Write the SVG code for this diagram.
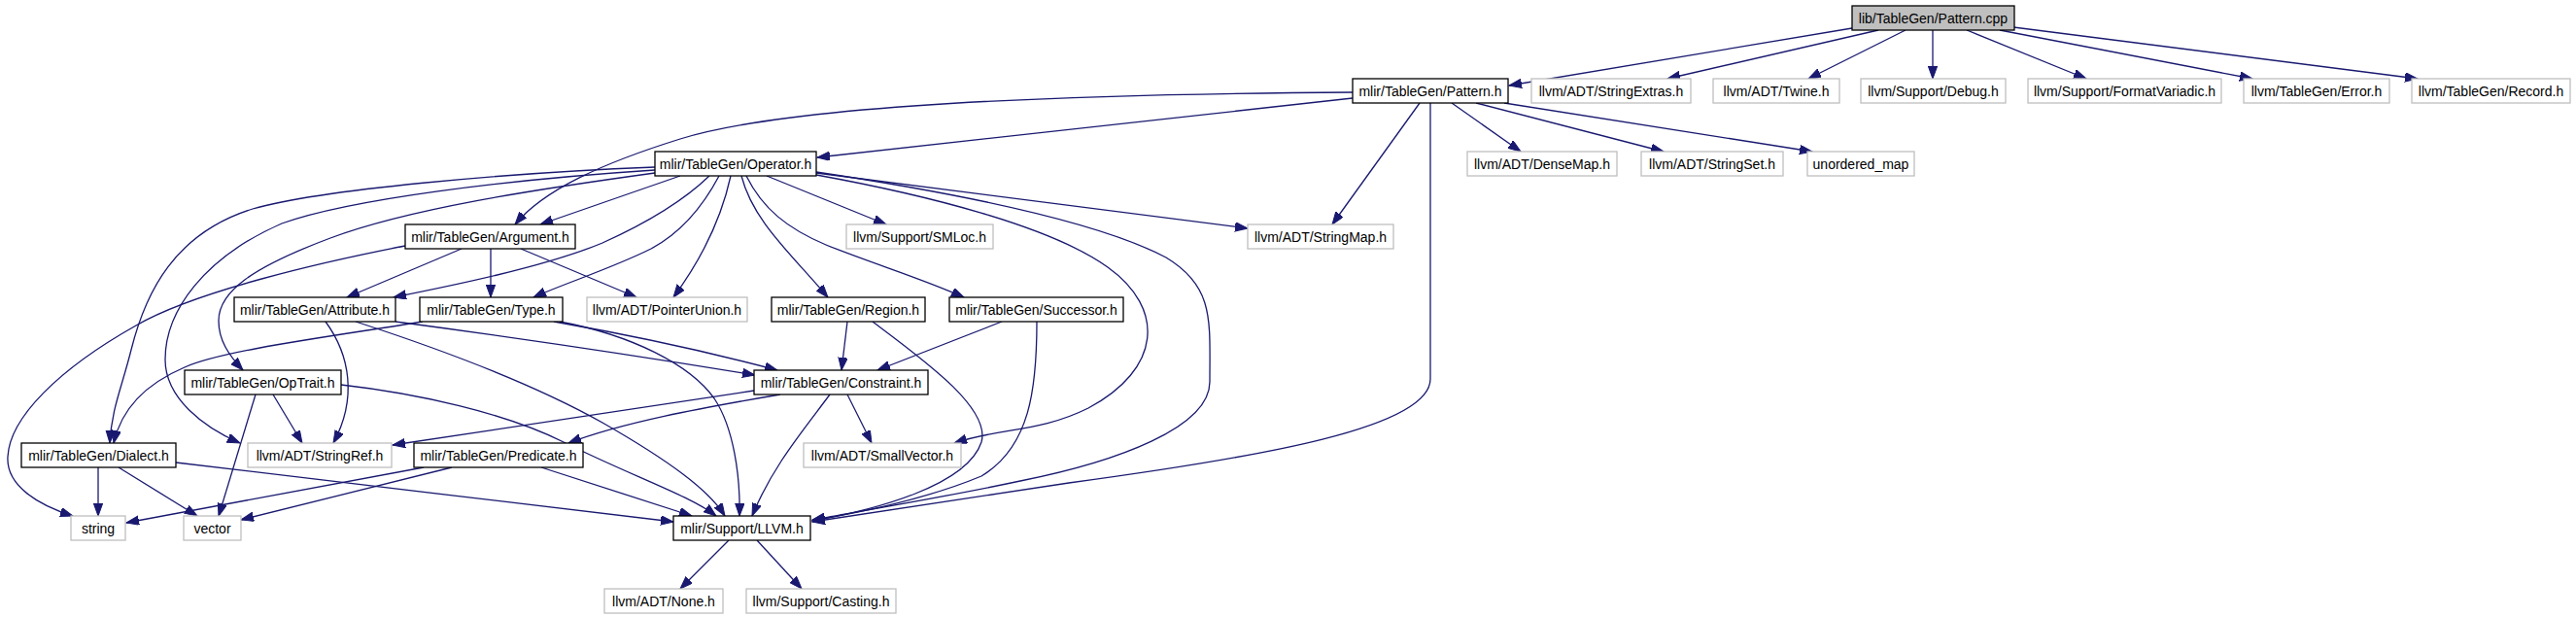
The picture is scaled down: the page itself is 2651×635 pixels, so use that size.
<svg xmlns="http://www.w3.org/2000/svg" width="2651" height="635" viewBox="0 0 2651 635">
<style>
.n rect{fill:#fff;stroke:#000;stroke-width:1.3}
.x rect{fill:#fff;stroke:#bfbfbf;stroke-width:1.3}
.root rect{fill:#bfbfbf;stroke:#000;stroke-width:1.3}
text{font-family:"Liberation Sans",Arial,sans-serif;font-size:14px;text-anchor:middle;fill:#000}
#edges path{fill:none;stroke:#191970;stroke-width:1.3;marker-end:url(#arr)}
</style>
<defs>
<marker id="arr" markerWidth="14" markerHeight="10" refX="13" refY="4.7" orient="auto" markerUnits="userSpaceOnUse">
<path d="M0,0 L13,4.7 L0,9.4 z" fill="#191970" stroke="#191970" stroke-width="1"/>
</marker>
</defs>
<rect width="2651" height="635" fill="#fff"/>
<g id="edges">
<path d="M1906,29 L1553,88"/>
<path d="M1933,31 L1716,81"/>
<path d="M1961,31 L1861,81"/>
<path d="M1989,31 L1989,81"/>
<path d="M2024,31 L2147,81"/>
<path d="M2058,31 L2318,81"/>
<path d="M2072,28 L2488,81"/>
<path d="M1392,95 C1050,97 800,112 700,143 C620,168 560,195 530,231"/>
<path d="M1392,101 L841,162"/>
<path d="M1461,106 L1371,231"/>
<path d="M1494,106 L1565,156"/>
<path d="M1519,106 L1712,156"/>
<path d="M1548,106 L1865,156"/>
<path d="M1472,106 L1472,390 C1472,440 1300,470 1100,497 C1000,512 900,527 836,537"/>
<path d="M700,181 L556,231"/>
<path d="M730,181 C700,210 660,232 620,250 C560,275 460,295 405,306"/>
<path d="M740,181 C722,215 700,240 670,256 C630,276 580,292 549,306"/>
<path d="M752,181 Q738,245 693,306"/>
<path d="M763,181 C775,228 815,262 852,306"/>
<path d="M768,181 C785,215 810,235 850,252 C900,272 950,287 992,306"/>
<path d="M789,181 L912,231"/>
<path d="M840,178 L1284,235"/>
<path d="M840,180 C950,200 1080,232 1140,275 C1200,318 1195,380 1120,420 C1070,445 1030,440 982,456"/>
<path d="M840,177 C980,198 1130,228 1200,265 C1250,295 1245,330 1245,393 C1245,440 1150,475 1050,495 C970,512 880,527 836,535"/>
<path d="M674,172 C520,178 330,195 260,215 C180,240 150,300 135,360 C125,400 115,420 113,456"/>
<path d="M674,175 C520,185 360,205 290,230 C210,265 170,320 170,370 C170,410 210,440 247,456"/>
<path d="M674,178 C550,195 420,215 340,245 C260,275 225,300 225,330 C225,350 235,365 250,381"/>
<path d="M475,256 L357,306"/>
<path d="M505,256 L505,306"/>
<path d="M536,256 L655,306"/>
<path d="M417,253 C330,270 200,300 140,335 C60,380 10,430 8,470 C6,500 40,520 75,531"/>
<path d="M335,331 C360,365 368,410 343,456"/>
<path d="M407,331 C550,350 680,370 777,386"/>
<path d="M366,331 C440,355 540,390 620,435 C690,475 730,505 746,531"/>
<path d="M570,331 C650,345 740,365 800,381"/>
<path d="M576,331 C650,345 710,375 735,410 C755,440 762,490 761,531"/>
<path d="M435,331 C350,345 230,360 190,378 C150,395 125,420 117,456"/>
<path d="M872,331 L866,381"/>
<path d="M898,331 C950,370 1020,420 1010,455 C995,500 900,525 836,536"/>
<path d="M1031,331 L903,381"/>
<path d="M1067,331 C1067,400 1060,460 1010,490 C950,515 880,528 836,536"/>
<path d="M263,406 L225,531"/>
<path d="M281,406 L311,456"/>
<path d="M351,396 C430,405 520,425 580,455 C650,490 710,510 737,531"/>
<path d="M854,406 C825,445 795,480 774,531"/>
<path d="M872,406 L897,456"/>
<path d="M776,402 L404,458"/>
<path d="M803,406 C720,420 640,435 585,456"/>
<path d="M101,481 L101,531"/>
<path d="M122,481 L203,531"/>
<path d="M181,476 L693,537"/>
<path d="M436,481 L130,538"/>
<path d="M465,481 L248,535"/>
<path d="M557,481 L712,531"/>
<path d="M750,556 L700,606"/>
<path d="M779,556 L825,606"/>
</g>
<g id="n_pattern_cpp" class="root"><rect x="1906" y="6" width="167" height="25"/><text x="1989.5" y="23.5">lib/TableGen/Pattern.cpp</text></g>
<g id="n_pattern_h" class="n"><rect x="1392" y="81" width="160" height="25"/><text x="1472" y="98.5">mlir/TableGen/Pattern.h</text></g>
<g id="n_stringextras" class="x"><rect x="1576" y="81" width="164" height="25"/><text x="1658" y="98.5">llvm/ADT/StringExtras.h</text></g>
<g id="n_twine" class="x"><rect x="1763" y="81" width="130" height="25"/><text x="1828" y="98.5">llvm/ADT/Twine.h</text></g>
<g id="n_debug" class="x"><rect x="1915" y="81" width="149" height="25"/><text x="1989.5" y="98.5">llvm/Support/Debug.h</text></g>
<g id="n_formatvariadic" class="x"><rect x="2087" y="81" width="199" height="25"/><text x="2186.5" y="98.5">llvm/Support/FormatVariadic.h</text></g>
<g id="n_error" class="x"><rect x="2309" y="81" width="150" height="25"/><text x="2384" y="98.5">llvm/TableGen/Error.h</text></g>
<g id="n_record" class="x"><rect x="2482" y="81" width="163" height="25"/><text x="2563.5" y="98.5">llvm/TableGen/Record.h</text></g>
<g id="n_operator" class="n"><rect x="674" y="156" width="166" height="25"/><text x="757" y="173.5">mlir/TableGen/Operator.h</text></g>
<g id="n_densemap" class="x"><rect x="1510" y="156" width="154" height="25"/><text x="1587" y="173.5">llvm/ADT/DenseMap.h</text></g>
<g id="n_stringset" class="x"><rect x="1689" y="156" width="146" height="25"/><text x="1762" y="173.5">llvm/ADT/StringSet.h</text></g>
<g id="n_unordered_map" class="x"><rect x="1860" y="156" width="110" height="25"/><text x="1915" y="173.5">unordered_map</text></g>
<g id="n_argument" class="n"><rect x="417" y="231" width="175" height="25"/><text x="504.5" y="248.5">mlir/TableGen/Argument.h</text></g>
<g id="n_smloc" class="x"><rect x="871" y="231" width="151" height="25"/><text x="946.5" y="248.5">llvm/Support/SMLoc.h</text></g>
<g id="n_stringmap" class="x"><rect x="1284" y="231" width="150" height="25"/><text x="1359" y="248.5">llvm/ADT/StringMap.h</text></g>
<g id="n_attribute" class="n"><rect x="241" y="306" width="166" height="25"/><text x="324" y="323.5">mlir/TableGen/Attribute.h</text></g>
<g id="n_type" class="n"><rect x="432" y="306" width="147" height="25"/><text x="505.5" y="323.5">mlir/TableGen/Type.h</text></g>
<g id="n_pointerunion" class="x"><rect x="604" y="306" width="165" height="25"/><text x="686.5" y="323.5">llvm/ADT/PointerUnion.h</text></g>
<g id="n_region" class="n"><rect x="794" y="306" width="158" height="25"/><text x="873" y="323.5">mlir/TableGen/Region.h</text></g>
<g id="n_successor" class="n"><rect x="977" y="306" width="179" height="25"/><text x="1066.5" y="323.5">mlir/TableGen/Successor.h</text></g>
<g id="n_optrait" class="n"><rect x="190" y="381" width="161" height="25"/><text x="270.5" y="398.5">mlir/TableGen/OpTrait.h</text></g>
<g id="n_constraint" class="n"><rect x="776" y="381" width="179" height="25"/><text x="865.5" y="398.5">mlir/TableGen/Constraint.h</text></g>
<g id="n_dialect" class="n"><rect x="22" y="456" width="159" height="25"/><text x="101.5" y="473.5">mlir/TableGen/Dialect.h</text></g>
<g id="n_stringref" class="x"><rect x="255" y="456" width="148" height="25"/><text x="329" y="473.5">llvm/ADT/StringRef.h</text></g>
<g id="n_predicate" class="n"><rect x="426" y="456" width="174" height="25"/><text x="513" y="473.5">mlir/TableGen/Predicate.h</text></g>
<g id="n_smallvector" class="x"><rect x="827" y="456" width="162" height="25"/><text x="908" y="473.5">llvm/ADT/SmallVector.h</text></g>
<g id="n_string" class="x"><rect x="73" y="531" width="56" height="25"/><text x="101" y="548.5">string</text></g>
<g id="n_vector" class="x"><rect x="189" y="531" width="59" height="25"/><text x="218.5" y="548.5">vector</text></g>
<g id="n_llvm" class="n"><rect x="693" y="531" width="141" height="25"/><text x="763.5" y="548.5">mlir/Support/LLVM.h</text></g>
<g id="n_none" class="x"><rect x="622" y="606" width="122" height="25"/><text x="683" y="623.5">llvm/ADT/None.h</text></g>
<g id="n_casting" class="x"><rect x="768" y="606" width="154" height="25"/><text x="845" y="623.5">llvm/Support/Casting.h</text></g>
</svg>
